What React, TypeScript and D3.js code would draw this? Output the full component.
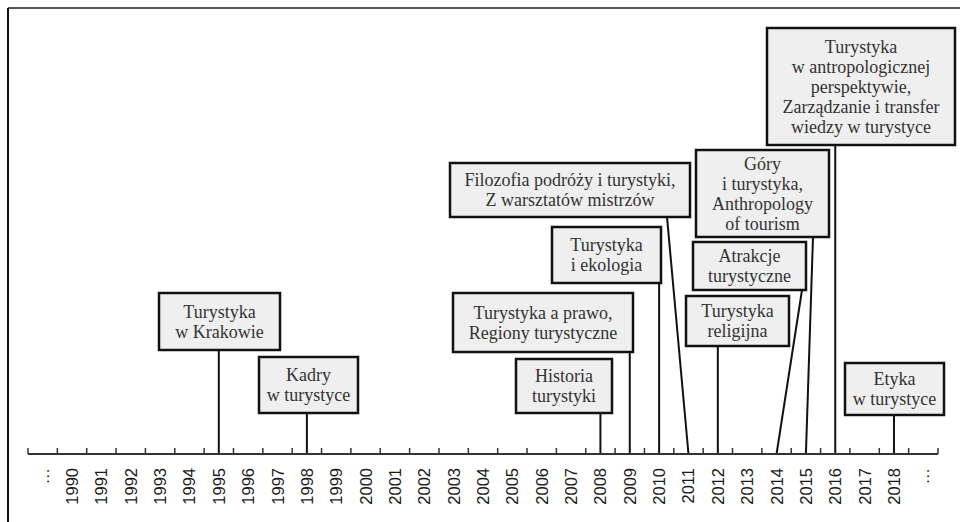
import React from "react";
import * as d3 from "d3";

const categories: string[] = [
  "…", "1990", "1991", "1992", "1993", "1994", "1995", "1996", "1997", "1998", "1999",
  "2000", "2001", "2002", "2003", "2004", "2005", "2006", "2007", "2008", "2009",
  "2010", "2011", "2012", "2013", "2014", "2015", "2016", "2017", "2018", "… ",
];

const eventYears: string[] = ["1995", "1998", "2008", "2009", "2010", "2011", "2012", "2014", "2015", "2016", "2018"];

const eventLabels: string[][] = [
  ["Turystyka", "w Krakowie"],
  ["Kadry", "w turystyce"],
  ["Historia", "turystyki"],
  ["Turystyka a prawo,", "Regiony turystyczne"],
  ["Turystyka", "i ekologia"],
  ["Filozofia podróży i turystyki,", "Z warsztatów mistrzów"],
  ["Turystyka", "religijna"],
  ["Atrakcje", "turystyczne"],
  ["Góry", "i turystyka,", "Anthropology", "of tourism"],
  ["Turystyka", "w antropologicznej", "perspektywie,", "Zarządzanie i transfer", "wiedzy w turystyce"],
  ["Etyka", "w turystyce"],
];

// layout (positions of the label boxes, and the x where the leader leaves the box; null = straight down)
const boxLayout: { x0: number; y0: number; x1: number; y1: number; ax: number | null }[] = [
  { x0: 159, y0: 293, x1: 280, y1: 350, ax: null },
  { x0: 259, y0: 357, x1: 358, y1: 413, ax: null },
  { x0: 516, y0: 359, x1: 612, y1: 413, ax: null },
  { x0: 453, y0: 293, x1: 633, y1: 352, ax: null },
  { x0: 552, y0: 227, x1: 661, y1: 283, ax: null },
  { x0: 450, y0: 163, x1: 690, y1: 217, ax: 667 },
  { x0: 686, y0: 296, x1: 789, y1: 346, ax: null },
  { x0: 693, y0: 242, x1: 806, y1: 290, ax: 802 },
  { x0: 696, y0: 150, x1: 829, y1: 237, ax: 813 },
  { x0: 767, y0: 28, x1: 955, y1: 145, ax: null },
  { x0: 845, y0: 363, x1: 944, y1: 415, ax: null },
];

const W = 960;
const H = 522;
const axisY = 454;
const axisX0 = 28;
const axisX1 = 938;

export default function App() {
  const x = d3.scaleBand<string>().domain(categories).range([axisX0, axisX1]).padding(0);
  const bw = x.bandwidth();
  const boundaries = d3.range(categories.length + 1).map((i) => axisX0 + i * bw);
  const lineH = 20;

  return (
    <svg
      width={W}
      height={H}
      style={{ position: "absolute", left: 0, top: 0, background: "#fff" }}
    >
      {/* frame */}
      <line x1={8} y1={8} x2={W} y2={8} stroke="#555" strokeWidth={2} />
      <line x1={8} y1={8} x2={8} y2={H} stroke="#111" strokeWidth={2} />

      {/* leader lines */}
      {eventYears.map((yr, i) => {
        const b = boxLayout[i];
        const cx = (x(yr) as number) + bw / 2;
        const sx = b.ax == null ? cx : b.ax;
        return (
          <line key={"l" + i} x1={sx} y1={b.y1} x2={cx} y2={axisY} stroke="#111" strokeWidth={2} />
        );
      })}

      {/* axis */}
      <line x1={axisX0} y1={axisY} x2={axisX1} y2={axisY} stroke="#333" strokeWidth={2} />
      {boundaries.map((bx, i) => (
        <line key={"t" + i} x1={bx} y1={axisY} x2={bx} y2={axisY - 6} stroke="#333" strokeWidth={1.5} />
      ))}
      {categories.map((c, i) => {
        const cx = (x(c) as number) + bw / 2;
        return (
          <text
            key={"c" + i}
            transform={`translate(${cx + 6},468) rotate(-90)`}
            textAnchor="end"
            fontFamily="'Liberation Sans', Arial, sans-serif"
            fontSize={16.5}
            fill="#1a1a1a"
          >
            {c.trim()}
          </text>
        );
      })}

      {/* boxes */}
      {eventLabels.map((lines, i) => {
        const b = boxLayout[i];
        const cx = (b.x0 + b.x1) / 2;
        const cy = (b.y0 + b.y1) / 2;
        const startY = cy - ((lines.length - 1) * lineH) / 2;
        return (
          <g key={"b" + i}>
            <rect
              x={b.x0}
              y={b.y0}
              width={b.x1 - b.x0}
              height={b.y1 - b.y0}
              fill="#efefef"
              stroke="#111"
              strokeWidth={2.5}
            />
            {lines.map((t, j) => (
              <text
                key={j}
                x={cx}
                y={startY + j * lineH + 6}
                textAnchor="middle"
                fontFamily="'Liberation Serif', 'Times New Roman', serif"
                fontSize={18}
                fill="#333"
              >
                {t}
              </text>
            ))}
          </g>
        );
      })}
    </svg>
  );
}
